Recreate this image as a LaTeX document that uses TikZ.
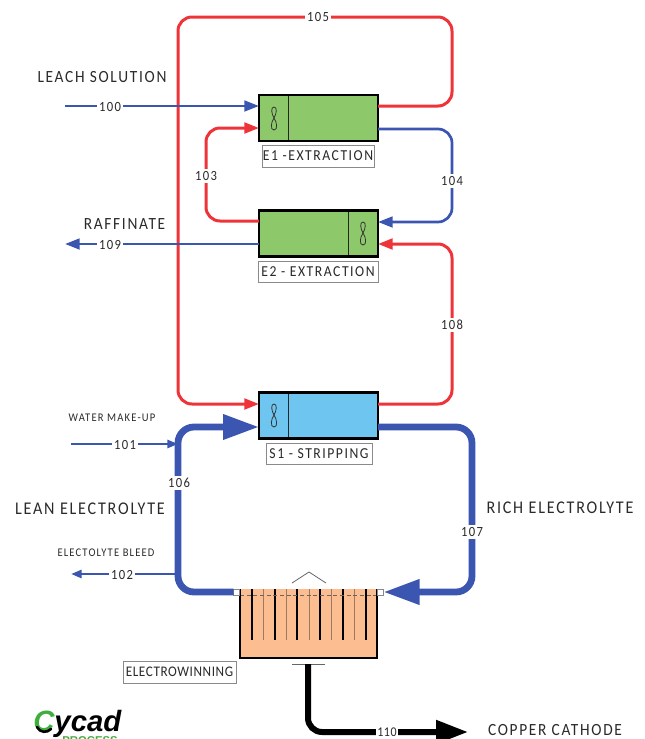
\documentclass[tikz,border=0pt]{standalone}
\usepackage{fontspec}
\setmainfont{Carlito}
\newfontfamily\din[FakeStretch=0.9,LetterSpace=10]{Carlito}
\newfontfamily\dintight[FakeStretch=0.9,LetterSpace=4]{Carlito}
\newfontfamily\logofont{Liberation Sans}
\usetikzlibrary{arrows.meta}
\definecolor{cred}{HTML}{EE3339}
\definecolor{cblue}{HTML}{3B56B0}
\definecolor{cgreen}{HTML}{8DC96B}
\definecolor{csky}{HTML}{6EC6F0}
\definecolor{corange}{HTML}{FCBE90}
\definecolor{ctext}{HTML}{2A2A2A}
\definecolor{cgray}{HTML}{8A8A8A}
\definecolor{clogo}{HTML}{3FAE3F}
\definecolor{cplate}{HTML}{9A7A60}
\def\px{0.75pt}
\tikzset{
  x=0.75pt,y=-0.75pt,
  unitbox/.style={draw=black,line width=2.6*\px,outer sep=0pt,inner sep=0pt,minimum width=119*\px,minimum height=46*\px},
  divider/.style={draw=black!85,line width=1*\px},
  fanblade/.style={draw=black!80,line width=0.8*\px},
  tagbox/.style={draw=cgray,fill=white,line width=0.9*\px,inner sep=0pt,font=\din\fontsize{11.4}{12}\selectfont,text=ctext},
  title/.style={inner sep=0pt,font=\din\fontsize{13.4}{14}\selectfont,text=ctext},
  titlesm/.style={title,font=\din\fontsize{12.8}{14}\selectfont},
  smalltitle/.style={inner sep=0pt,font=\din\fontsize{8.8}{10}\selectfont,text=ctext},
  num/.style={fill=white,inner sep=1.5pt,font=\din\fontsize{10.5}{11}\selectfont,text=ctext},
  redline/.style={draw=cred,line width=3*\px,rounded corners=14*\px},
  blueline/.style={draw=cblue,line width=2.7*\px,rounded corners=14*\px},
  fatblue/.style={draw=cblue,line width=6.8*\px,rounded corners=16*\px},
  fatblack/.style={draw=black,line width=6*\px,rounded corners=14*\px},
  tipsmall/.style={-{Triangle[length=11pt,width=8pt]}},
  tipfat/.style={-{Triangle[length=27pt,width=18pt]}},
  tipblack/.style={-{Triangle[length=24pt,width=17pt]}},
  tipthin/.style={-{Triangle[length=8pt,width=6pt]}},
  stub/.style={draw=cgray,fill=white,line width=0.6*\px,inner sep=0pt,minimum width=6*\px,minimum height=6*\px,outer sep=0pt},
  electrode/.style={draw=black,line width=2.4*\px},
  plate/.style={draw=cplate,line width=1*\px}
}
\newcommand{\fanat}[2]{%
  \draw[fanblade,shift={(#1,#2)}] (0,0) .. controls (-2.5,-4) and (-3.5,-11) .. (0,-11) .. controls (3.5,-11) and (2.5,-4) .. (0,0) .. controls (-3,4) and (-4,12) .. (0,12) .. controls (4,12) and (3,4) .. (0,0);}
\begin{document}
\begin{tikzpicture}
\useasboundingbox (0,0) rectangle (644,739);
% units
\node[unitbox,fill=cgreen] (E1) at (318.5,118) {};
\node[unitbox,fill=cgreen] (E2) at (318.5,233.5) {};
\node[unitbox,fill=csky] (S1) at (318.5,415.5) {};
\node[fill=corange,inner sep=0pt,outer sep=0pt,minimum width=137*\px,minimum height=69*\px] (EW) at (308.5,623.5) {};
\draw[divider] (288.5,96) -- (288.5,140);
\draw[divider] (348,212) -- (348,255);
\draw[divider] (288.5,394) -- (288.5,437);
\fanat{274}{118}
\fanat{363}{233}
\fanat{274}{415}
% electrowinning cell
\foreach \xx in {263,286,309,331,354}{\draw[plate] (\xx,589) -- (\xx,640);}
\foreach \xx in {252,275,297,320,343,366}{\draw[electrode] (\xx,589) -- (\xx,640);}
\draw[black!60,line width=0.5*\px,densely dashed] (240,595) -- (377,595);
\draw[black,line width=2.2*\px] (EW.north west) -- (EW.south west) -- (EW.south east) -- (EW.north east);
\node[stub] (stubL) at (236.5,592) {};
\node[stub] (stubR) at (380.5,592) {};
\coordinate (roofL) at (292,583);
\coordinate (roofT) at (309,572);
\coordinate (roofR) at (326,583);
\draw[black!60,line width=0.8*\px] (roofL) -- (roofT) -- (roofR);
\coordinate (barL) at (292,664);
\coordinate (barR) at (325,664);
\coordinate (barT) at (308,664);
\draw[black!60,line width=0.8*\px] (barL) -- (barR);
% free ends
\coordinate (in100) at (65,106);
\coordinate (out109) at (65,244);
\coordinate (in101) at (71,444);
\coordinate (out102) at (71,574);
\coordinate (out110) at (468,733);
% streams
\draw[redline,tipsmall] (E1.east |- 0,106) -- (452,106) -- (452,17) -- (178,17) -- (178,404) -- (S1.west |- 0,404);
\draw[redline,tipsmall] (E2.west |- 0,221) -- (206,221) -- (206,128) -- (E1.west |- 0,128);
\draw[redline,tipsmall] (S1.east |- 0,404) -- (452,404) -- (452,244) -- (E2.east |- 0,244);
\draw[blueline,tipsmall] (in100) -- (E1.west |- in100);
\draw[blueline,tipsmall] (E2.west |- out109) -- (out109);
\draw[blueline,tipsmall] (E1.east |- 0,129) -- (452,129) -- (452,222) -- (E2.east |- 0,222);
\draw[fatblue,tipfat] (stubL.west) -- (178,592) -- (178,427) -- (S1.west |- 0,427);
\draw[fatblue,tipfat] (S1.east |- 0,427) -- (472,427) -- (472,592) -- (stubR.east);
\draw[blueline,tipthin] (in101) -- (178,444);
\draw[blueline,tipthin] (178,574) -- (out102);
\draw[fatblack,tipblack] (barT) -- (308,732) -- (out110 |- 0,732);
% stream numbers
\node[num] (n105) at (318,17) {105};
\node[num] (n100) at (110,107) {100};
\node[num] (n103) at (206,176) {103};
\node[num] (n104) at (452,181) {104};
\node[num] (n109) at (110,245) {109};
\node[num] (n108) at (452,325) {108};
\node[num] (n101) at (125,445) {101};
\node[num] (n106) at (179,483) {106};
\node[num] (n107) at (472,532) {107};
\node[num] (n102) at (122,575) {102};
\node[num,inner sep=1pt,font=\dintight\fontsize{10}{10}\selectfont] (n110) at (387,732.5) {110};
% tags
\node[tagbox,minimum width=112*\px,minimum height=22*\px] (tE1) at (318,156) {E1 -EXTRACTION};
\node[tagbox,minimum width=120*\px,minimum height=21*\px] (tE2) at (318,271.5) {E2 - EXTRACTION};
\node[tagbox,minimum width=106*\px,minimum height=21*\px] (tS1) at (319,453.5) {S1 - STRIPPING};
\node[tagbox,minimum width=113*\px,minimum height=22*\px,font=\dintight\fontsize{11}{12}\selectfont] (tEW) at (179.5,672) {ELECTROWINNING};
% titles
\node[titlesm] (tLeach) at (102,77) {LEACH SOLUTION};
\node[titlesm] (tRaff) at (124.5,224) {RAFFINATE};
\node[smalltitle] (tWater) at (112,418) {WATER MAKE-UP};
\node[title] (tLean) at (90,509) {LEAN ELECTROLYTE};
\node[smalltitle] (tBleed) at (106,553) {ELECTOLYTE BLEED};
\node[title] (tRich) at (560,508) {RICH ELECTROLYTE};
\node[titlesm] (tCopper) at (555,730.5) {COPPER CATHODE};
% logo
\node[inner sep=0pt,anchor=base west,font=\logofont\bfseries\itshape\fontsize{22}{24}\selectfont] (logo) at (33,731) {\textcolor{clogo}{C}ycad};
\draw[black,line width=2.6*\px,line cap=round] (37,727) .. controls (40,733) and (47,733) .. (51,729);
\node[inner sep=0pt,anchor=base west,text=clogo,font=\logofont\bfseries\fontsize{8.5}{9}\selectfont] (logoB) at (62,744) {PROCESS};
\end{tikzpicture}
\end{document}
